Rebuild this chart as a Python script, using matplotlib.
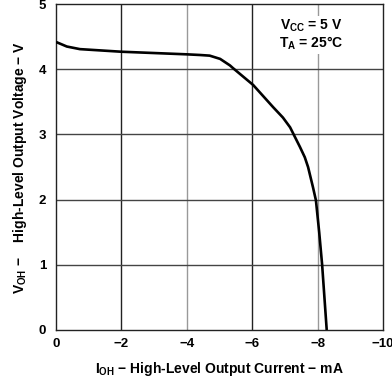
import matplotlib
matplotlib.use("Agg")
import matplotlib.pyplot as plt

# output characteristic
i_oh = [0, -0.33, -0.73, -2.0, -4.0, -4.4, -4.7, -5.02, -5.32, -5.41,
        -6.03, -6.64, -6.94, -7.16, -7.31, -7.46, -7.61, -7.71, -7.86,
        -7.95, -8.05, -8.14, -8.28]
v_oh = [4.42, 4.35, 4.31, 4.27, 4.23, 4.22, 4.21, 4.16, 4.06, 4.02,
        3.76, 3.42, 3.26, 3.11, 2.96, 2.81, 2.65, 2.5, 2.19,
        1.99, 1.5, 1.0, 0.0]

x_ticks = [0, -2, -4, -6, -8, -10]
y_ticks = [0, 1, 2, 3, 4, 5]

plt.rcParams["font.family"] = ["Liberation Sans", "DejaVu Sans"]
plt.rcParams["font.weight"] = "bold"
plt.rcParams["mathtext.fontset"] = "custom"
plt.rcParams["mathtext.rm"] = "Liberation Sans:bold"
plt.rcParams["mathtext.it"] = "Liberation Sans:bold"
plt.rcParams["mathtext.bf"] = "Liberation Sans:bold"
plt.rcParams["mathtext.default"] = "rm"

fig = plt.figure(figsize=(3.92, 3.78), dpi=100)
ax = fig.add_axes([0.1429, 0.127, 0.834, 0.862])

ax.set_xlim(0, -10)
ax.set_ylim(0, 5)
ax.set_xticks(x_ticks)
ax.set_yticks(y_ticks)
ax.tick_params(length=0, labelsize=9.5)
ax.tick_params(axis="x", pad=6)
ax.tick_params(axis="y", pad=7)
for lab in ax.get_xticklabels() + ax.get_yticklabels():
    lab.set_fontweight("bold")

# grid: some verticals printed lighter in the datasheet
for x in x_ticks[1:-1]:
    c = "#999999" if x in (-4, -8) else "#222222"
    ax.axvline(x, color=c, lw=1.0, zorder=1)
for y in y_ticks[1:-1]:
    ax.axhline(y, color="#444444", lw=1.0, zorder=1)

for s in ax.spines.values():
    s.set_linewidth(1.0)
    s.set_color("#222222")

ax.plot(i_oh, v_oh, color="black", lw=1.9, zorder=3,
        solid_joinstyle="round", solid_capstyle="butt")

ax.text(-7.8, 4.53, "V$_{CC}$ = 5 V\nT$_{A}$ = 25°C", fontsize=10,
        fontweight="bold", ha="center", va="center", linespacing=1.1,
        bbox=dict(facecolor="white", edgecolor="none", pad=1.0), zorder=4)

ax.set_xlabel("I$_{OH}$ − High-Level Output Current − mA",
              fontsize=10, fontweight="bold", labelpad=7)
ax.set_ylabel("V$_{OH}$ −    High-Level Output Voltage − V",
              fontsize=10, fontweight="bold", labelpad=7)

fig.savefig("out.png", dpi=100)
